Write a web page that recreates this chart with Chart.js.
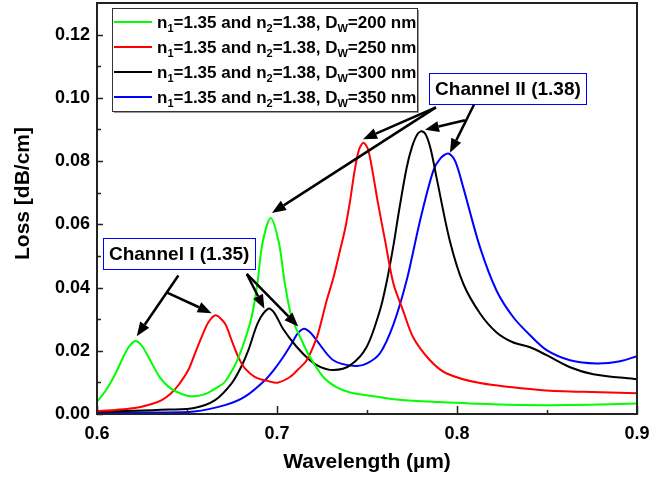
<!DOCTYPE html>
<html>
<head>
<meta charset="utf-8">
<script src="https://cdn.jsdelivr.net/npm/chart.js@4.4.1/dist/chart.umd.min.js"></script>
<style>
  html, body { margin: 0; padding: 0; background: #fff; }
  #wrap { width: 667px; height: 478px; }
</style>
</head>
<body>
<div id="wrap"><canvas id="grafico"></canvas></div>
<script>
// --- 1. DATOS ---
const xTicks = [0.6, 0.7, 0.8, 0.9];
const yTicks = [0, 0.02, 0.04, 0.06, 0.08, 0.10, 0.12];

// D_W = 200 nm (verde)
const wl200   = [0.600, 0.605, 0.610, 0.615, 0.618, 0.6214, 0.625, 0.630, 0.635, 0.640, 0.645, 0.652, 0.660, 0.667, 0.6711, 0.6767, 0.6794, 0.6822, 0.6859, 0.6891, 0.6919, 0.6965, 0.7011, 0.7044, 0.7081, 0.7137, 0.7183, 0.7257, 0.733, 0.7406, 0.755, 0.768, 0.790, 0.820, 0.850, 0.880, 0.900];
const loss200 = [0.0039, 0.0075, 0.0125, 0.0185, 0.0215, 0.0231, 0.0215, 0.0165, 0.0115, 0.0085, 0.0068, 0.0056, 0.0063, 0.0085, 0.0102, 0.0155, 0.019, 0.0235, 0.0307, 0.0412, 0.054, 0.062, 0.054, 0.0412, 0.0307, 0.0233, 0.018, 0.0117, 0.0085, 0.0068, 0.0055, 0.0045, 0.0038, 0.0031, 0.0028, 0.003, 0.0033];

// D_W = 250 nm (rojo)
const wl250   = [0.600, 0.610, 0.621, 0.630, 0.636, 0.641, 0.6452, 0.6507, 0.6544, 0.6581, 0.6619, 0.666, 0.6711, 0.6748, 0.6785, 0.6822, 0.6878, 0.6952, 0.7003, 0.7072, 0.7115, 0.7165, 0.722, 0.7245, 0.7276, 0.7313, 0.735, 0.738, 0.7406, 0.743, 0.7455, 0.748, 0.7505, 0.753, 0.756, 0.760, 0.7647, 0.770, 0.7756, 0.785, 0.794, 0.8128, 0.846, 0.870, 0.900];
const loss250 = [0.0009, 0.0013, 0.0019, 0.0031, 0.0044, 0.0065, 0.0091, 0.0139, 0.0191, 0.0243, 0.029, 0.0312, 0.0286, 0.0233, 0.018, 0.0144, 0.0117, 0.0104, 0.0099, 0.0117, 0.014, 0.017, 0.024, 0.029, 0.0359, 0.043, 0.0517, 0.059, 0.0674, 0.0765, 0.0835, 0.0858, 0.0838, 0.077, 0.067, 0.055, 0.0412, 0.0328, 0.0243, 0.017, 0.0129, 0.0098, 0.0076, 0.007, 0.0066];

// D_W = 300 nm (negro)
const wl300   = [0.600, 0.620, 0.640, 0.654, 0.6656, 0.6748, 0.680, 0.6841, 0.6895, 0.6952, 0.6985, 0.7035, 0.711, 0.7183, 0.7239, 0.7313, 0.7406, 0.7498, 0.7572, 0.761, 0.7646, 0.768, 0.772, 0.775, 0.778, 0.7804, 0.7828, 0.7855, 0.7887, 0.796, 0.8035, 0.8128, 0.822, 0.831, 0.8406, 0.8498, 0.8628, 0.8757, 0.900];
const loss300 = [0.0008, 0.0010, 0.0014, 0.0019, 0.0044, 0.0097, 0.0148, 0.0202, 0.029, 0.0333, 0.032, 0.0268, 0.0212, 0.017, 0.0149, 0.0139, 0.0154, 0.0212, 0.0328, 0.042, 0.053, 0.065, 0.0778, 0.0845, 0.0885, 0.0894, 0.0882, 0.0835, 0.0746, 0.0548, 0.0412, 0.0318, 0.0258, 0.0227, 0.0211, 0.0186, 0.0148, 0.0126, 0.011];

// D_W = 350 nm (azul)
const wl350   = [0.600, 0.630, 0.654, 0.6711, 0.6822, 0.6933, 0.699, 0.704, 0.7081, 0.7115, 0.715, 0.7185, 0.722, 0.7313, 0.7433, 0.750, 0.7572, 0.7646, 0.772, 0.7794, 0.7868, 0.791, 0.7952, 0.799, 0.8035, 0.8128, 0.822, 0.8313, 0.8406, 0.8498, 0.8628, 0.8776, 0.8906, 0.900];
const loss350 = [0.0004, 0.0005, 0.0008, 0.0028, 0.0055, 0.0107, 0.0145, 0.0185, 0.0222, 0.0255, 0.027, 0.0258, 0.0233, 0.017, 0.0152, 0.016, 0.0192, 0.0282, 0.0422, 0.061, 0.0769, 0.081, 0.0824, 0.080, 0.0716, 0.0527, 0.039, 0.0306, 0.0249, 0.0202, 0.017, 0.016, 0.0167, 0.0183];

// "_X" = subíndice de un carácter
const seriesLabels = [
    'n_1=1.35 and n_2=1.38, D_W=200 nm',
    'n_1=1.35 and n_2=1.38, D_W=250 nm',
    'n_1=1.35 and n_2=1.38, D_W=300 nm',
    'n_1=1.35 and n_2=1.38, D_W=350 nm'
];
const seriesColors = ['#00ff00', '#ff0000', '#000000', '#0000ff'];

const yTitle = 'Loss [dB/cm]';
const xTitle = 'Wavelength (µm)';

// Anotaciones (en unidades de datos)
const channelLabels = ['Channel I (1.35)', 'Channel II (1.38)'];
const channelBoxes  = [[0.6035, 0.0556, 0.6878, 0.0457], [0.7846, 0.1078, 0.8720, 0.0980]];
// [x1, y1, x2, y2, conPunta]
const arrows = [
    [0.6452, 0.0438, 0.6221, 0.0246, true],
    [0.6387, 0.0385, 0.6637, 0.0319, true],
    [0.6832, 0.0443, 0.6930, 0.0333, true],
    [0.6832, 0.0443, 0.7118, 0.0277, true],
    [0.7883, 0.0970, 0.6972, 0.0636, true],
    [0.7883, 0.0970, 0.7478, 0.0869, true],
    [0.8094, 0.0978, 0.7961, 0.0826, true],
    [0.8044, 0.0929, 0.7822, 0.0899, true]
];

const FONT = '"Liberation Sans", Arial, sans-serif';

// --- 2. PLUGIN: marco, ticks internos, título Y, leyenda y flechas ---
const marcoPlugin = {
    id: 'marco',
    afterDraw(chart) {
        const { ctx, chartArea: a, scales: { x, y } } = chart;
        ctx.save();

        // ticks hacia adentro
        ctx.strokeStyle = '#222';
        ctx.lineWidth = 1.5;
        ctx.beginPath();
        for (let i = 0; i <= 6; i++) {
            const px = Math.round(x.getPixelForValue(0.6 + i * 0.05)) + 0.5;
            const len = i % 2 === 0 ? 8 : 4;
            ctx.moveTo(px, a.bottom); ctx.lineTo(px, a.bottom - len);
        }
        for (let i = 0; i <= 12; i++) {
            const py = Math.round(y.getPixelForValue(i * 0.01)) + 0.5;
            const len = i % 2 === 0 ? 6 : 4;
            ctx.moveTo(a.left, py); ctx.lineTo(a.left + len, py);
        }
        ctx.stroke();

        // marco completo
        ctx.lineWidth = 2;
        ctx.strokeRect(a.left, a.top, a.right - a.left, a.bottom - a.top);

        // título del eje Y (algo por encima del centro, como el original)
        ctx.fillStyle = '#000';
        ctx.font = 'bold 21px ' + FONT;
        ctx.textAlign = 'center';
        ctx.textBaseline = 'middle';
        ctx.translate(a.left - 74, (a.top + a.bottom) / 2 - 15);
        ctx.rotate(-Math.PI / 2);
        ctx.fillText(yTitle, 0, 0);
        ctx.setTransform(1, 0, 0, 1, 0, 0);

        // flechas
        ctx.strokeStyle = '#000';
        ctx.fillStyle = '#000';
        ctx.lineWidth = 2.5;
        arrows.forEach(([x1, y1, x2, y2, punta]) => {
            const p1 = [x.getPixelForValue(x1), y.getPixelForValue(y1)];
            const p2 = [x.getPixelForValue(x2), y.getPixelForValue(y2)];
            const ang = Math.atan2(p2[1] - p1[1], p2[0] - p1[0]);
            const L = 14, W = 5.5;
            const bx = p2[0] - L * Math.cos(ang), by = p2[1] - L * Math.sin(ang);
            ctx.beginPath();
            ctx.moveTo(p1[0], p1[1]);
            ctx.lineTo(punta ? bx : p2[0], punta ? by : p2[1]);
            ctx.stroke();
            if (punta) {
                ctx.beginPath();
                ctx.moveTo(p2[0], p2[1]);
                ctx.lineTo(bx + W * Math.sin(ang), by - W * Math.cos(ang));
                ctx.lineTo(bx - W * Math.sin(ang), by + W * Math.cos(ang));
                ctx.closePath();
                ctx.fill();
            }
        });

        // cajas "Channel"
        channelLabels.forEach((txt, i) => {
            const [bx1, by1, bx2, by2] = channelBoxes[i];
            const l = x.getPixelForValue(bx1), t = y.getPixelForValue(by1);
            const r = x.getPixelForValue(bx2), b = y.getPixelForValue(by2);
            ctx.fillStyle = '#fff';
            ctx.fillRect(l, t, r - l, b - t);
            ctx.strokeStyle = '#0000ff';
            ctx.lineWidth = 1;
            ctx.strokeRect(Math.round(l) + 0.5, Math.round(t) + 0.5, Math.round(r - l), Math.round(b - t));
            ctx.fillStyle = '#000';
            ctx.font = 'bold 19px ' + FONT;
            ctx.textAlign = 'center';
            ctx.textBaseline = 'middle';
            ctx.fillText(txt, (l + r) / 2, (t + b) / 2 + 1);
        });

        // leyenda con subíndices
        const lx = a.left + 15, ly = a.top + 5, lw = 305, lh = 103;
        ctx.fillStyle = '#999';
        ctx.fillRect(lx + 2, ly + 2, lw, lh);
        ctx.fillStyle = '#fff';
        ctx.fillRect(lx, ly, lw, lh);
        ctx.strokeStyle = '#333';
        ctx.lineWidth = 1;
        ctx.strokeRect(lx + 0.5, ly + 0.5, lw, lh);
        ctx.textAlign = 'left';
        ctx.textBaseline = 'alphabetic';
        seriesLabels.forEach((lab, i) => {
            const cy = ly + 14 + i * 25;
            ctx.strokeStyle = seriesColors[i];
            ctx.lineWidth = 2;
            ctx.beginPath();
            ctx.moveTo(lx + 2, cy); ctx.lineTo(lx + 40, cy);
            ctx.stroke();
            let tx = lx + 45;
            const base = cy + 6;
            ctx.fillStyle = '#000';
            lab.split(/_(.)/).forEach((p, k) => {
                const sub = k % 2 === 1;
                ctx.font = sub ? 'bold 11px ' + FONT : 'bold 17px ' + FONT;
                ctx.fillText(p, tx, sub ? base + 4 : base);
                tx += ctx.measureText(p).width;
            });
        });

        ctx.restore();
    }
};

// --- 3. GRÁFICO ---
const ctx = document.getElementById('grafico').getContext('2d');
const wls    = [wl200, wl250, wl300, wl350];
const losses = [loss200, loss250, loss300, loss350];

new Chart(ctx, {
    type: 'line',
    data: {
        datasets: seriesLabels.map((lab, i) => ({
            label: lab,
            data: wls[i].map((w, k) => ({ x: w, y: losses[i][k] })),
            borderColor: seriesColors[i],
            borderWidth: 2,
            pointRadius: 0,
            fill: false,
            tension: 0.3
        }))
    },
    options: {
        responsive: true,
        maintainAspectRatio: false,
        animation: false,
        layout: { padding: { top: 3, right: 30, left: 0, bottom: 0 } },
        plugins: { legend: { display: false }, tooltip: { enabled: false } },
        scales: {
            x: {
                type: 'linear', min: 0.6, max: 0.9,
                afterBuildTicks: s => { s.ticks = xTicks.map(v => ({ value: v })); },
                afterFit: s => { s.height = 64; s.paddingLeft = 0; s.paddingRight = 0; },
                grid: { display: false, drawTicks: false },
                border: { display: false },
                ticks: {
                    color: '#000', padding: 9,
                    font: { family: FONT, size: 18, weight: 'bold' },
                    callback: v => v.toFixed(1)
                },
                title: {
                    display: true, text: xTitle, color: '#000',
                    font: { family: FONT, size: 21, weight: 'bold' },
                    padding: { top: 0, bottom: 3 }
                }
            },
            y: {
                min: 0, max: 0.13,
                afterBuildTicks: s => { s.ticks = yTicks.map(v => ({ value: v })); },
                afterFit: s => { s.width = 97; s.paddingTop = 0; s.paddingBottom = 0; },
                grid: { display: false, drawTicks: false },
                border: { display: false },
                ticks: {
                    color: '#000', padding: 7,
                    font: { family: FONT, size: 18, weight: 'bold' },
                    callback: v => v.toFixed(2)
                },
                title: { display: false }
            }
        }
    },
    plugins: [marcoPlugin]
});
</script>
</body>
</html>
